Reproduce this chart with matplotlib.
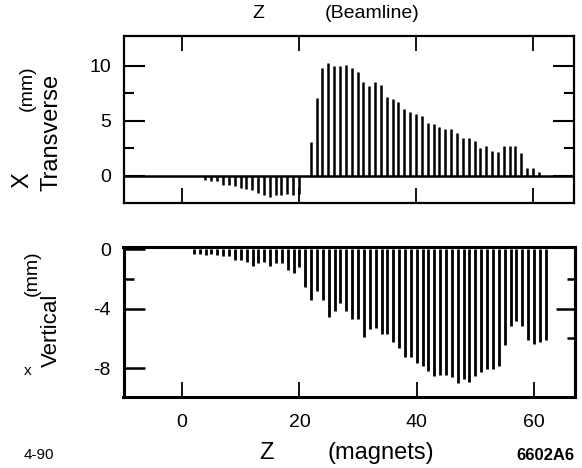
import numpy as np
import matplotlib.pyplot as plt

plt.rcParams['font.family'] = ['Liberation Sans', 'DejaVu Sans']

# transverse (X) displacement per magnet
x_neg_pos = list(range(4, 21))
x_neg_val = [-0.4, -0.45, -0.45, -0.8, -0.85, -0.9, -1.1, -1.2, -1.25,
             -1.55, -1.75, -1.9, -1.75, -1.7, -1.6, -1.7, -1.6]
x_pos_pos = list(range(22, 62))
x_pos_val = [3.1, 7.1, 9.8, 10.25, 9.95, 9.95, 10.1, 9.8, 9.4, 8.5,
             8.15, 8.5, 8.25, 7.2, 6.95, 6.7, 6.1, 5.85, 5.65, 5.45,
             4.8, 4.7, 4.4, 4.3, 4.25, 3.9, 3.45, 3.45, 3.15, 2.55,
             2.7, 2.3, 2.2, 2.7, 2.7, 2.7, 2.1, 0.75, 0.7, 0.35]

# vertical displacement per magnet
y_pos = list(range(2, 63))
y_val = [-0.29, -0.33, -0.42, -0.29, -0.4, -0.47, -0.47, -0.73, -0.73, -0.84,
         -1.13, -0.96, -0.84, -1.13, -0.96, -0.96, -1.4, -1.62, -1.18, -2.51,
         -3.4, -2.84, -3.4, -4.56, -4.18, -3.62, -4.18, -4.73, -4.73, -5.89,
         -5.36, -5.31, -5.73, -5.73, -6.24, -6.62, -7.24, -7.24, -7.69, -7.89,
         -8.18, -8.51, -8.44, -8.44, -8.62, -9.0, -8.73, -8.91, -8.51, -8.24,
         -8.07, -8.07, -7.89, -6.47, -5.18, -4.84, -5.18, -6.13, -6.4, -6.24,
         -6.13]

fig = plt.figure(figsize=(5.82, 4.68), dpi=100)
W, H = 582.0, 468.0

def box(l, t, r, b):
    return [l / W, 1 - b / H, (r - l) / W, (b - t) / H]

ax1 = fig.add_axes(box(123.5, 36, 574, 203))
ax2 = fig.add_axes(box(123.5, 247, 575, 397))

# top panel
ax1.vlines(x_neg_pos, 0, x_neg_val, color='k', lw=1.8)
ax1.vlines(x_pos_pos, 0, x_pos_val, color='k', lw=1.8)
ax1.axhline(0, color='k', lw=1.8)
ax1.set_xlim(-10, 67)
ax1.set_ylim(-2.45, 12.7)
ax1.set_yticks([0, 5, 10])
ax1.set_yticks([2.5, 7.5], minor=True)
ax1.set_xticks([0, 20, 40, 60])
ax1.set_xticklabels([])
ax1.tick_params(axis='y', which='major', direction='in', length=15, width=1.5,
                left=True, right=True, labelsize=14, pad=9)
ax1.tick_params(axis='y', which='minor', direction='in', length=7.5, width=1.5,
                left=True, right=True)
ax1.tick_params(axis='x', direction='in', length=11, width=1.3, top=True, bottom=True)
for s in ax1.spines.values():
    s.set_linewidth(1.6)

# bottom panel
ax2.vlines(y_pos, 0, y_val, color='k', lw=2)
ax2.set_xlim(-10, 67)
ax2.set_ylim(-9.95, 0.15)
ax2.set_yticks([0, -4, -8])
ax2.set_yticklabels(['0', '-4', '-8'])
ax2.set_yticks([-2], minor=True)
ax2.set_xticks([0, 20, 40, 60])
ax2.tick_params(axis='y', which='major', direction='in', length=15, width=1.8,
                labelsize=14, pad=9)
ax2.tick_params(axis='y', which='minor', direction='in', length=7.5, width=1.8)
ax2.tick_params(axis='x', direction='in', length=11, width=1.3, labelsize=14, pad=12)
for s in ax2.spines.values():
    s.set_linewidth(2.2)
sec = ax2.secondary_yaxis('right')
sec.set_yticks([-4])
sec.set_yticks([-2, -6], minor=True)
sec.set_yticklabels([])
sec.tick_params(which='major', direction='in', length=14, width=1.8)
sec.tick_params(which='minor', direction='in', length=6, width=1.8)
sec.spines['right'].set_linewidth(2.2)

# titles and labels
fig.text(258 / W, 1 - 14 / H, 'Z', fontsize=14, ha='center', va='center')
fig.text(372 / W, 1 - 14 / H, '(Beamline)', fontsize=14, ha='center', va='center')
fig.text(267 / W, 1 - 453 / H, 'Z', fontsize=17, ha='center', va='center')
fig.text(381 / W, 1 - 453 / H, '(magnets)', fontsize=17, ha='center', va='center')
fig.text(39 / W, 1 - 455 / H, '4-90', fontsize=11, ha='center', va='center')
fig.text(545 / W, 1 - 455 / H, '6602A6', fontsize=12, ha='center', va='center',
         fontweight='bold')

fig.text(22 / W, 1 - 180 / H, 'X', fontsize=17, rotation=90, ha='center', va='center')
fig.text(27 / W, 1 - 88 / H, '(mm)', fontsize=14, rotation=90, ha='center', va='center')
fig.text(52 / W, 1 - 132 / H, 'Transverse', fontsize=17, rotation=90, ha='center', va='center')
fig.text(32 / W, 1 - 273 / H, '(mm)', fontsize=14, rotation=90, ha='center', va='center')
fig.text(51 / W, 1 - 330 / H, 'Vertical', fontsize=16, rotation=90, ha='center', va='center')
fig.text(28 / W, 1 - 371 / H, 'x', fontsize=11, ha='center', va='center')

fig.savefig('out.png', dpi=100)
